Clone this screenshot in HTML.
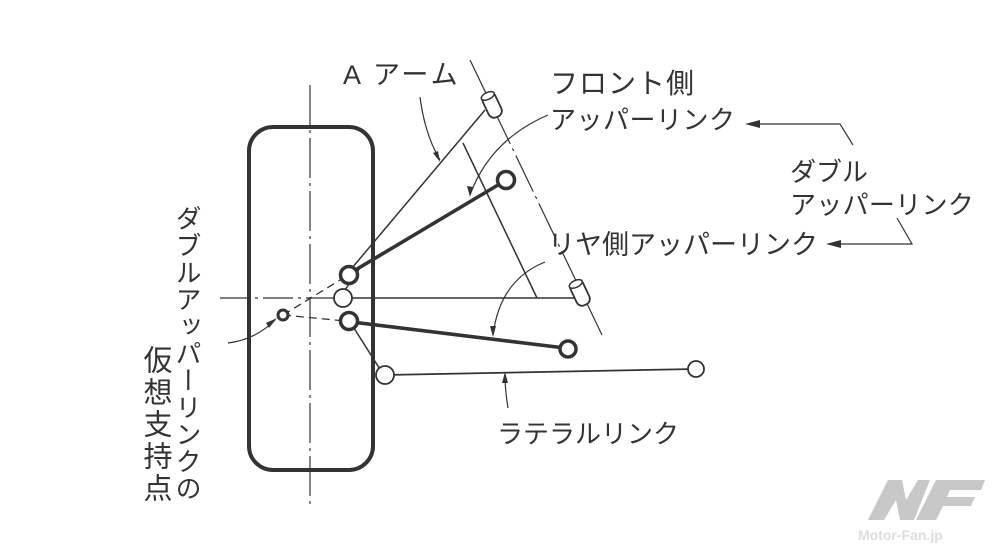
<!DOCTYPE html>
<html><head><meta charset="utf-8"><style>
html,body{margin:0;padding:0;background:#fff;}
svg{display:block;}
text{font-family:"Liberation Sans","Noto Sans CJK JP",sans-serif;fill:#333;font-size:26px;}
</style></head><body>
<svg width="999" height="556" viewBox="0 0 999 556" xmlns="http://www.w3.org/2000/svg">
<g stroke="#333" fill="none">
<rect x="249" y="127" width="124" height="343" rx="24" stroke-width="4"/>
<line x1="310" y1="85" x2="310" y2="505" stroke-width="1.2" stroke-dasharray="40,5,3,5"/>
<line x1="220" y1="298" x2="335" y2="298" stroke-width="1.2" stroke-dasharray="30,5,3,5"/>
<line x1="352" y1="298" x2="575" y2="298" stroke-width="1.5"/>
<line x1="470" y1="60" x2="603" y2="337" stroke-width="1.2" stroke-dasharray="40,5,3,5"/>
<line x1="352" y1="268" x2="485" y2="110" stroke-width="1.5"/>
<line x1="463" y1="143" x2="537" y2="298" stroke-width="1.5"/>
<line x1="352" y1="272" x2="503" y2="182" stroke-width="3.6"/>
<line x1="352" y1="322" x2="565" y2="348" stroke-width="3.6"/>
<line x1="283" y1="315" x2="345" y2="277" stroke-width="1.3" stroke-dasharray="8,5"/>
<line x1="283" y1="315" x2="345" y2="321" stroke-width="1.3" stroke-dasharray="8,5"/>
<line x1="352" y1="325" x2="383" y2="374" stroke-width="1.5"/>
<line x1="345" y1="290" x2="360" y2="268" stroke-width="1.5"/>
<line x1="385" y1="375" x2="695" y2="369" stroke-width="1.8"/>
</g>
<g stroke="#333" fill="#fff">
<circle cx="349" cy="275" r="8.5" stroke-width="3.5"/>
<circle cx="343" cy="298" r="9" stroke-width="1.8"/>
<circle cx="349" cy="321" r="8.5" stroke-width="3.5"/>
<circle cx="506" cy="180" r="8.5" stroke-width="3.5"/>
<circle cx="568" cy="349" r="8" stroke-width="3.5"/>
<circle cx="283" cy="315" r="5" stroke-width="3"/>
<circle cx="385" cy="375" r="9" stroke-width="1.8"/>
<circle cx="696" cy="369" r="8" stroke-width="1.8"/>
<g transform="translate(492,105) rotate(-25)">
<rect x="-7" y="-13" width="14" height="26" rx="6" stroke-width="1.8"/>
<ellipse cx="0" cy="-10" rx="7" ry="3.5" stroke-width="1.5"/>
</g>
<g transform="translate(580,293) rotate(-25)">
<rect x="-7" y="-13" width="14" height="26" rx="6" stroke-width="1.8"/>
<ellipse cx="0" cy="-10" rx="7" ry="3.5" stroke-width="1.5"/>
</g>
</g>
<g stroke="#333" fill="none" stroke-width="1.2">
<path d="M420,97 Q425,135 440,160"/>
<path d="M548,115 Q490,140 470,195"/>
<path d="M545,262 Q500,280 493,335"/>
<path d="M508,408 Q505,390 505,374"/>
<path d="M228,343 Q255,340 275,320"/>
<path d="M758,124 L840,124 L853,145"/>
<path d="M840,244 L912,244 L897,218"/>
</g>
<g fill="#333">
<polygon points="440,162 433,153 438,151"/>
<polygon points="470,197 467,186 473,187"/>
<polygon points="493,337 490,326 496,326"/>
<polygon points="505,372 502,383 508,383"/>
<polygon points="277,318 266,323 269,328"/>
<polygon points="745,124 760,120 760,128"/>
<polygon points="826,244 841,240 841,248"/>
</g>
<text x="343" y="84" style="font-size:27px;letter-spacing:3px">A アーム</text>
<text x="550" y="93" style="font-size:28px;letter-spacing:1px">フロント側</text>
<text x="550" y="129" style="font-size:26px;letter-spacing:0.5px">アッパーリンク</text>
<text x="790" y="181">ダブル</text>
<text x="790" y="214" style="letter-spacing:0.3px">アッパーリンク</text>
<text x="548" y="254" style="font-size:27px">リヤ側アッパーリンク</text>
<text x="497" y="443" style="font-size:26px">ラテラルリンク</text>
<text x="187" y="205" style="writing-mode:vertical-rl;font-size:26px;letter-spacing:1px">ダブルアッパーリンクの</text>
<text x="155" y="345" style="writing-mode:vertical-rl;font-size:29px;letter-spacing:3px">仮想支持点</text>
<g fill="#c8c8c8">
<polygon points="868,520 888,480 902,480 906,500 918,480 930,480 914,520 900,520 896,500 884,520"/>
<polygon points="916,520 936,480 985,480 981,490 950,490 947,497 975,497 971,506 943,506 936,520"/>
</g>
<text x="858" y="540" style="font-size:14px;fill:#ddd;font-weight:bold">Motor-Fan.jp</text>
</svg>
</body></html>
